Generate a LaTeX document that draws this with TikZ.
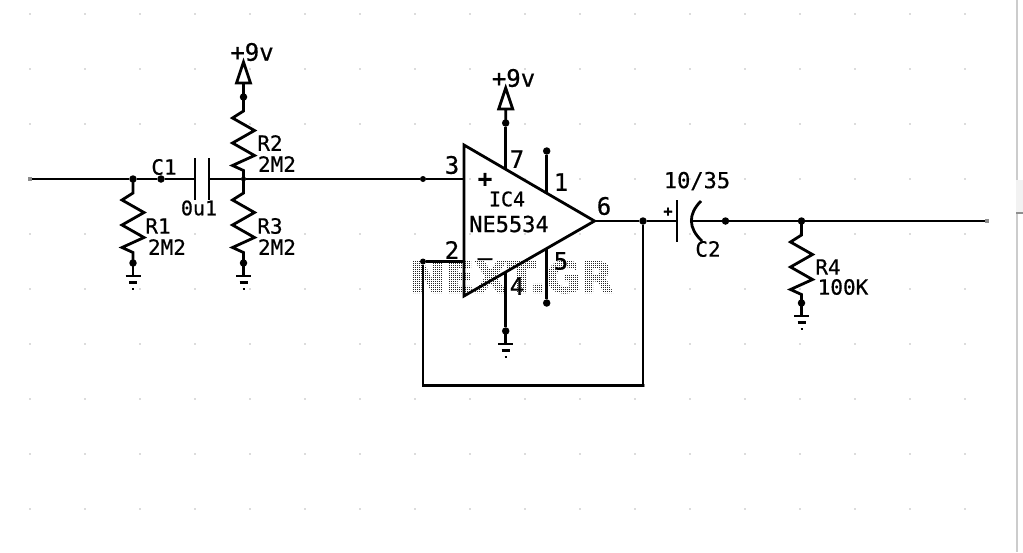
\documentclass[tikz,border=0pt]{standalone}
\usepackage{fontspec}
\setmainfont{DejaVu Sans Mono}[FakeBold=0.6]
\newfontfamily\markfont{DejaVu Sans Bold}[FakeBold=2.5]
\usetikzlibrary{calc,positioning}

\definecolor{griddot}{gray}{0.72}
\definecolor{pinend}{gray}{0.55}
\definecolor{barline}{gray}{0.8}
\definecolor{barfill}{gray}{0.95}

\tikzset{
    wire/.style={line width=2.8pt, black, line join=miter},
    junction/.style={circle, fill=black, inner sep=0pt, minimum size=7.5pt},
    wireend/.style={rectangle, fill=pinend, inner sep=0pt, minimum size=4pt},
    corner/.style={rectangle, fill=pinend, inner sep=0pt, minimum size=3pt},
    lbl/.style={inner sep=0pt, font=\fontsize{21}{21}\selectfont},
    pinlbl/.style={inner sep=0pt, font=\fontsize{24}{24}\selectfont},
    resdown/.style={to path={
        -- ($(\tikztostart)+(0,14)$) -- ++(-11,7) -- ++(22,12.5) -- ++(-22,12.5)
        -- ++(22,12.5) -- ++(-22,10) -- ++(11,5) -- (\tikztotarget)}},
}

% ground symbol hanging below a node
\newcommand{\gndsym}[1]{
    \draw[wire] (#1.center) -- ++(0,13) ++(-7.5,0) -- ++(15,0);
    \draw[wire] ($(#1.center)+(-4,19.5)$) -- ++(8,0);
    \draw[wire] ($(#1.center)+(-1,26)$) -- ++(2,0);
}
% open supply arrow above a node
\newcommand{\supply}[1]{
    \draw[wire] (#1.center) -- ++(0,-14) -- ++(-7,0) -- ++(7,-21) -- ++(7,21) -- ++(-7,0);
}

\begin{document}
\begin{tikzpicture}[x=1pt,y=-1pt]
    \useasboundingbox (0,0) rectangle (1023,552);

    % sheet grid
    \foreach \gx in {30,85,...,965}
        \foreach \gy in {14,69,...,509}
            \fill[griddot] (\gx,\gy) circle (0.8);

    % window edge
    \fill[barline] (1016,0) rectangle (1017.5,552);
    \fill[barfill] (1016,180) rectangle (1023,212);
    \fill[barline!70!black] (1016,212) rectangle (1023,213.5);

    % watermark
    \node[inner sep=0pt, text=black!85] (mark) at (511.5,277)
        {\fontsize{42.5}{42.5}\markfont NEXT.GR};
    \foreach \wx in {404,406,...,620}
        \draw[white, line width=1pt] (\wx+0.5,258) -- (\wx+0.5,296);
    \foreach \wy in {258,260,...,296}
        \draw[white, line width=1pt] (402,\wy+0.5) -- (622,\wy+0.5);

    % input side
    \node[wireend] (in) at (30,179) {};
    \node[junction] (j1) at (133,179) {};
    \node[junction] (c1dot) at (161,179) {};
    \coordinate (c1a) at (195,179);
    \coordinate (c1b) at (209,179);
    \node[junction, minimum size=5pt] (j2) at (243.5,179) {};
    \node[junction, minimum size=6pt] (ninv) at (423,179) {};
    \node[junction] (r1end) at (133,263) {};
    \node[junction] (r2top) at (243.5,97) {};
    \node[junction] (r3end) at (243.5,263) {};

    \draw[wire] (in) -- (j1) -- (c1dot) -- (c1a);
    \draw[wire] (c1b) -- (j2) -- (ninv);
    \draw[wire] (195,158) -- (195,200);
    \draw[wire] (209,158) -- (209,200);
    \draw[wire] (j1.center) to[resdown] (r1end.center);
    \draw[wire] (r2top.center) to[resdown] (j2.center);
    \draw[wire] (j2.center) to[resdown] (r3end.center);
    \gndsym{r1end}
    \gndsym{r3end}
    \supply{r2top}

    % op amp
    \coordinate (opa) at (464,145);
    \coordinate (opb) at (464,296);
    \coordinate (opc) at (594.5,221);
    \draw[wire] (opa) -- (opc) -- (opb) -- cycle;
    \coordinate (p3) at (464,179);
    \coordinate (p2) at (464,261.5);
    \coordinate (p7) at (505.7,169);
    \coordinate (p1) at (546.7,192);
    \coordinate (p5) at (546.7,249);
    \coordinate (p4) at (505.7,272);
    \node[junction, minimum size=6pt] (inv) at (423,261.5) {};
    \node[junction] (p7dot) at (505.7,123) {};
    \node[junction] (p1dot) at (546.7,151) {};
    \node[junction] (p5dot) at (546.7,303) {};
    \node[junction] (p4dot) at (505.7,331) {};
    \node[junction] (out) at (643,221) {};
    \node[corner] (fb1) at (423,385.5) {};
    \node[corner] (fb2) at (643,385.5) {};

    \draw[wire] (ninv) -- (p3);
    \draw[wire] (inv) -- (p2);
    \draw[wire] (p7) -- (p7dot);
    \draw[wire] (p1) -- (p1dot);
    \draw[wire] (p5) -- (p5dot);
    \draw[wire] (p4) -- (p4dot);
    \draw[wire] (inv) -- (fb1.center) -- (fb2.center) -- (out);
    \draw[wire] (opc) -- (out);
    \gndsym{p4dot}
    \supply{p7dot}

    % output side
    \coordinate (c2a) at (677,221);
    \coordinate (c2b) at (691,221);
    \node[junction] (c2dot) at (725.5,221) {};
    \node[junction] (j3) at (801.5,221) {};
    \node[wireend] (outend) at (987,221) {};
    \node[junction] (r4end) at (801.5,303) {};

    \draw[wire] (out) -- (c2a);
    \draw[wire] (677,200) -- (677,242);
    \draw[wire] (701,201) .. controls (688,214) and (688,228) .. (702,241);
    \draw[wire] (c2b) -- (c2dot) -- (j3) -- (outend);
    \draw[wire] (j3.center) to[resdown] (r4end.center);
    \gndsym{r4end}

    % labels
    \node[lbl] (c1lbl) at (164,167) {C1};
    \node[lbl, font=\fontsize{20}{20}\selectfont] (c1val) at (199,208) {0u1};
    \node[lbl] (r1lbl) at (158,226) {R1};
    \node[lbl] (r1val) at (167,247) {2M2};
    \node[lbl] (r2lbl) at (270,143) {R2};
    \node[lbl] (r2val) at (277,164) {2M2};
    \node[lbl] (r3lbl) at (270,226) {R3};
    \node[lbl] (r3val) at (277,247) {2M2};
    \node[pinlbl] (vcc1) at (252,52) {+9v};
    \node[pinlbl] (vcc2) at (513.5,78) {+9v};
    \node[pinlbl] (n3) at (452,165) {3};
    \node[pinlbl] (n7) at (517,159) {7};
    \node[pinlbl] (n1) at (561,182) {1};
    \node[pinlbl] (n6) at (604,206) {6};
    \node[pinlbl] (n2) at (452,250) {2};
    \node[pinlbl] (n5) at (561,261) {5};
    \node[pinlbl] (n4) at (517,286) {4};
    \node[lbl, font=\fontsize{20}{20}\selectfont] (icname) at (507,199) {IC4};
    \node[lbl, font=\fontsize{22}{22}\selectfont] (ictype) at (509,224) {NE5534};
    \node[pinlbl, font=\fontsize{24}{24}\selectfont\bfseries] (plus) at (485,180) {+};
    \node[pinlbl] (minus) at (485,262) {–};
    \node[lbl, font=\fontsize{15}{15}\selectfont\bfseries] (c2plus) at (668,212) {+};
    \node[lbl, font=\fontsize{22}{22}\selectfont] (c2val) at (697,181) {10/35};
    \node[lbl] (c2lbl) at (708,249) {C2};
    \node[lbl] (r4lbl) at (828,267) {R4};
    \node[lbl] (r4val) at (843,287) {100K};
\end{tikzpicture}
\end{document}
